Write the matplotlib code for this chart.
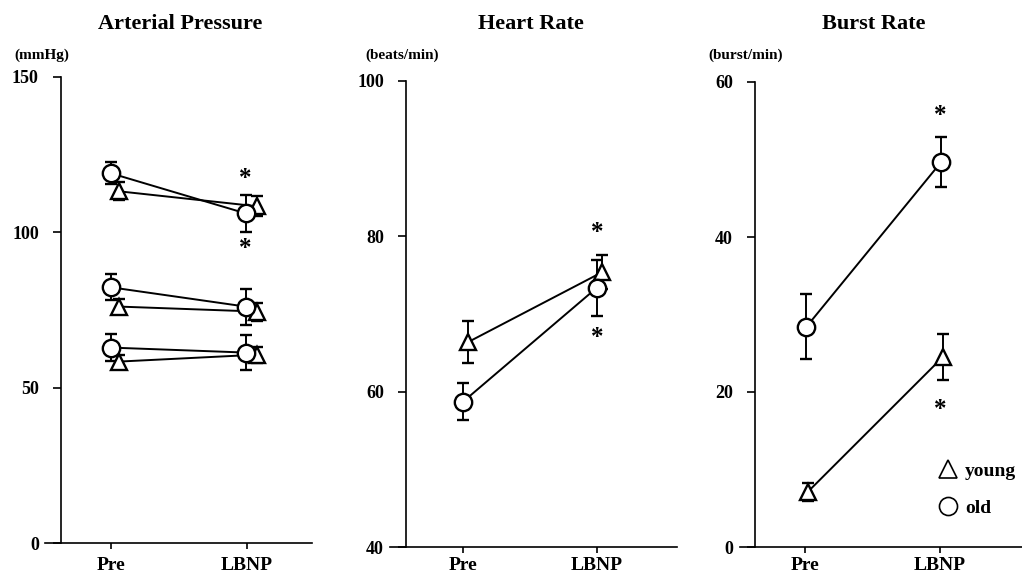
import matplotlib
matplotlib.use("Agg")
import matplotlib.pyplot as plt
from matplotlib.lines import Line2D

plt.rcParams['font.family'] = ['Liberation Serif', 'DejaVu Serif']
plt.rcParams['font.weight'] = 'bold'

conditions = ["Pre", "LBNP"]

# arterial pressure (systolic, mean, diastolic)
ap_young_pre = [113.2, 76.1, 58.4]
ap_young_lbnp = [108.4, 74.5, 60.6]
ap_young_pre_err = [2.9, 2.5, 2.0]
ap_young_lbnp_err = [3.2, 2.9, 2.5]
ap_old_pre = [119.0, 82.3, 62.9]
ap_old_lbnp = [106.1, 76.1, 61.3]
ap_old_pre_err = [3.6, 4.2, 4.4]
ap_old_lbnp_err = [6.0, 5.8, 5.7]

# heart rate
hr_young = [66.4, 75.4]
hr_young_err = [2.7, 2.2]
hr_old = [58.7, 73.4]
hr_old_err = [2.4, 3.6]

# burst rate
br_young = [7.1, 24.5]
br_young_err = [1.2, 3.0]
br_old = [28.4, 49.7]
br_old_err = [4.2, 3.2]

W, H = 1022, 578
fig = plt.figure(figsize=(W / 100, H / 100), dpi=100)


def make_axes(left, spine, right, top, bottom, pre_px, lbnp_px, ylim, yticks, xpad):
    ax = fig.add_axes([left / W, (H - bottom) / H, (right - left) / W, (bottom - top) / H])
    unit = lbnp_px - pre_px
    ax.set_xlim((left - pre_px) / unit, (right - pre_px) / unit)
    ax.set_ylim(*ylim)
    ax.spines['top'].set_visible(False)
    ax.spines['right'].set_visible(False)
    ax.spines['left'].set_position(('data', (spine - pre_px) / unit))
    for s in ['left', 'bottom']:
        ax.spines[s].set_linewidth(1.2)
    ax.set_xticks([0, 1])
    ax.set_xticklabels(conditions, fontsize=14, fontweight='bold')
    ax.set_yticks(yticks)
    ax.set_yticklabels([str(t) for t in yticks], fontsize=13, fontweight='bold')
    ax.tick_params(axis='y', direction='out', length=6, width=1.2, pad=10)
    ax.tick_params(axis='x', direction='out', length=4, width=1.2, pad=xpad)
    ax.patch.set_alpha(0)
    return ax


def series(ax, x, y, err, marker, ms):
    ax.errorbar(x, y, yerr=err, color='black', lw=1.4, elinewidth=1.4,
                capsize=4, capthick=1.4, marker=marker, ms=ms, mfc='white',
                mec='black', mew=1.7, zorder=3)


star = dict(ha='center', va='center', fontsize=18, fontweight='bold')

# Arterial Pressure
ax1 = make_axes(45, 61, 312, 77, 543, 111, 247, (0, 150), [0, 50, 100, 150], 6)
for i in range(3):
    series(ax1, [0.06, 1.07], [ap_young_pre[i], ap_young_lbnp[i]],
           [ap_young_pre_err[i], ap_young_lbnp_err[i]], '^', 11.5)
    series(ax1, [0, 0.99], [ap_old_pre[i], ap_old_lbnp[i]],
           [ap_old_pre_err[i], ap_old_lbnp_err[i]], 'o', 12.5)
ax1.text(0.99, 117.2, '*', **star)
ax1.text(0.99, 94.7, '*', **star)

# Heart Rate
ax2 = make_axes(390, 406, 677, 81, 547, 463, 597, (40, 100), [40, 60, 80, 100], 3)
series(ax2, [0.04, 1.04], hr_young, hr_young_err, '^', 11.5)
series(ax2, [0, 1.0], hr_old, hr_old_err, 'o', 12.5)
ax2.text(1.0, 80.5, '*', **star)
ax2.text(1.0, 67.0, '*', **star)

# Burst Rate
ax3 = make_axes(740, 755, 1022, 82, 547, 805, 940, (0, 60), [0, 20, 40, 60], 3)
series(ax3, [0.02, 1.02], br_young, br_young_err, '^', 11.5)
series(ax3, [0.01, 1.01], br_old, br_old_err, 'o', 12.5)
ax3.text(1.0, 55.7, '*', **star)
ax3.text(1.0, 17.8, '*', **star)

handles = [Line2D([], [], ls='none', marker='^', ms=13, mfc='white', mec='black', mew=1.2),
           Line2D([], [], ls='none', marker='o', ms=13, mfc='white', mec='black', mew=1.2)]
fig.legend(handles, ['young', 'old'], loc='upper left',
           bbox_to_anchor=(938 / W, (H - 462) / H), frameon=False,
           prop={'size': 14, 'weight': 'bold'}, handlelength=1.0,
           handletextpad=0.4, labelspacing=1.0, borderpad=0, borderaxespad=0)

titles = ["Arterial Pressure", "Heart Rate", "Burst Rate"]
title_x = [180, 531, 874]
units = ["(mmHg)", "(beats/min)", "(burst/min)"]
unit_x = [14, 365, 708]
for t, tx, u, ux in zip(titles, title_x, units, unit_x):
    fig.text(tx / W, 1 - 24 / H, t, ha='center', va='center', fontsize=16, fontweight='bold')
    fig.text(ux / W, 1 - 55 / H, u, ha='left', va='center', fontsize=11, fontweight='bold')

fig.savefig('out.png', dpi=100)
